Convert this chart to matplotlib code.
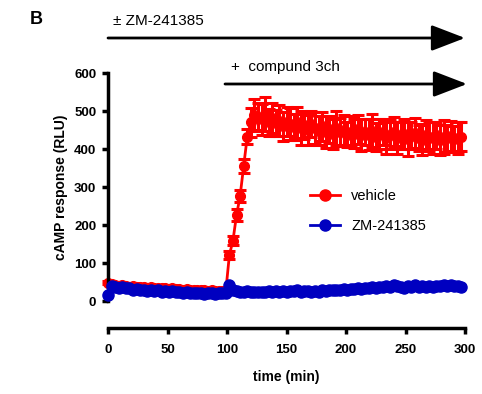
import numpy as np
import matplotlib
matplotlib.use("Agg")
import matplotlib.pyplot as plt
from matplotlib.lines import Line2D

plt.rcParams['font.family'] = ['Liberation Sans', 'DejaVu Sans']

time = np.arange(0, 300, 3)

vehicle = [48, 44, 42, 40, 41, 39, 38, 40, 37, 36, 38, 35, 36, 34, 35, 33, 34, 32, 33, 31,
           32, 30, 31, 29, 30, 29, 28, 29, 27, 28, 27, 26, 27, 26,
           121, 159, 226, 276, 355, 432,
           470, 490, 485, 478, 492, 470, 482, 468, 475, 460,
           472, 465, 458, 470, 455, 462, 450, 465, 455, 448,
           460, 445, 452, 440, 455, 445, 450, 438, 446, 440,
           452, 436, 445, 438, 448, 432, 440, 444, 430, 438,
           445, 428, 436, 440, 426, 435, 442, 430, 425, 438,
           432, 428, 436, 424, 432, 428, 435, 426, 430, 432]
vehicle_err = [4] * 34 + [10, 12, 15, 15, 18, 20] + [38, 42, 35, 40, 44, 36, 40, 34, 42, 38] * 6

zm = [15, 40, 36, 34, 38, 33, 35, 30, 32, 28, 30, 27, 29, 26, 28, 25, 27, 24, 26, 23,
      25, 22, 24, 21, 22, 20, 22, 19, 21, 20, 19, 21, 20, 22,
      42, 30, 26, 25, 24, 26, 24, 25, 23, 25,
      24, 26, 25, 27, 24, 26, 25, 27, 26, 28,
      25, 27, 26, 24, 27, 25, 28, 27, 29, 28,
      30, 29, 31, 30, 32, 31, 33, 32, 34, 33,
      36, 35, 38, 36, 40, 38, 43, 40, 36, 34,
      40, 36, 42, 38, 40, 37, 39, 38, 40, 39,
      41, 40, 42, 40, 39, 38]

xticks = [0, 50, 100, 150, 200, 250, 300]
yticks = [0, 100, 200, 300, 400, 500, 600]

fig = plt.figure(figsize=(4.82, 3.94), dpi=100)
ax = fig.add_axes([108/482, (394-301)/394, 357/482, 228/394])

red = '#FF0000'
blue = '#0000C0'
ax.errorbar(time, vehicle, yerr=vehicle_err, color=red, marker='o', markersize=7,
            linewidth=2, elinewidth=2.2, capsize=4.5, capthick=2.2,
            clip_on=False, zorder=2)
ax.plot(time, zm, color=blue, marker='o', markersize=8, linewidth=2,
        clip_on=False, zorder=3)

ax.set_xlim(0, 300)
ax.set_ylim(0, 600)
ax.spines['top'].set_visible(False)
ax.spines['right'].set_visible(False)
ax.spines['left'].set_linewidth(2.5)
ax.spines['bottom'].set_linewidth(2.5)
ax.spines['bottom'].set_position(('outward', 19.5))
ax.set_xticks(xticks)
ax.set_yticks(yticks)
ax.tick_params(axis='both', length=4.5, width=2.5, labelsize=9.5)
ax.tick_params(axis='x', pad=7)
ax.tick_params(axis='y', pad=4)
for lab in ax.get_xticklabels() + ax.get_yticklabels():
    lab.set_fontweight('bold')
ax.set_xlabel('time (min)', fontsize=10, fontweight='bold', labelpad=10)
ax.set_ylabel('cAMP response (RLU)', fontsize=10, fontweight='bold', labelpad=4)

handles = [Line2D([], [], color=red, marker='o', markersize=8, linewidth=2),
           Line2D([], [], color=blue, marker='o', markersize=8, linewidth=2)]
leg = ax.legend(handles, ['vehicle', 'ZM-241385'], loc='upper left',
                bbox_to_anchor=(0.53, 0.55), frameon=False,
                fontsize=10.5, handlelength=2.0, labelspacing=1.1, handletextpad=0.8)

# annotation arrows
fig.text(30/482, 1 - 20/394, 'B', fontsize=13, fontweight='bold', va='center', ha='left')
fig.text(113/482, 1 - 21/394, '\u00b1 ZM-241385', fontsize=11, va='center', ha='left')
fig.text(231/482, 1 - 67/394, '+  compund 3ch', fontsize=11, va='center', ha='left')
arrowprops = dict(arrowstyle='-|>,head_length=1.3,head_width=0.5', color='black',
                  lw=2, mutation_scale=16, shrinkA=0, shrinkB=0)
ax.annotate('', xy=(465/482, 1 - 38/394), xytext=(108/482, 1 - 38/394),
            xycoords='figure fraction', textcoords='figure fraction',
            arrowprops=arrowprops, annotation_clip=False)
ax.annotate('', xy=(467/482, 1 - 84/394), xytext=(225/482, 1 - 84/394),
            xycoords='figure fraction', textcoords='figure fraction',
            arrowprops=arrowprops, annotation_clip=False)

fig.savefig('out.png', dpi=100)
